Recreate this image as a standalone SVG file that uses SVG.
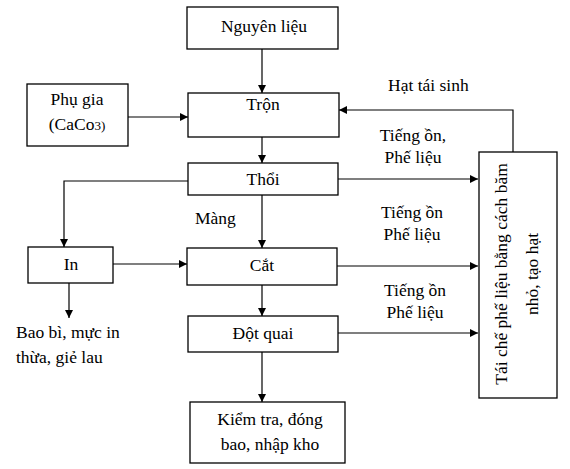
<svg xmlns="http://www.w3.org/2000/svg" width="570" height="469" viewBox="0 0 570 469">
<defs>
<marker id="ah" viewBox="0 0 10 10" refX="10" refY="5" markerWidth="8" markerHeight="8" markerUnits="userSpaceOnUse" orient="auto"><path d="M0,0 L10,5 L0,10 z" fill="#000"/></marker>
<style>
rect{fill:#fff;stroke:#000;stroke-width:1.3}
text{font-size:17.5px;fill:#000}
.c{text-anchor:middle}
.ln{fill:none;stroke:#000;stroke-width:1.2}
.a{marker-end:url(#ah)}
</style>
</defs>
<rect width="570" height="469" style="fill:#fff;stroke:none"/>
<g id="connectors">
<path class="ln a" d="M262,49 V93"/>
<path class="ln a" d="M128,117 H188"/>
<path class="ln a" d="M513,152 V110 H339"/>
<path class="ln a" d="M262,137 V163"/>
<path class="ln a" d="M188,181 H64 V247"/>
<path class="ln a" d="M338,179 H478"/>
<path class="ln a" d="M262,195 V248"/>
<path class="ln a" d="M113,264 H187"/>
<path class="ln a" d="M337,266 H478"/>
<path class="ln a" d="M262,285 V316"/>
<path class="ln a" d="M69,283 V318"/>
<path class="ln a" d="M338,333 H478"/>
<path class="ln a" d="M262,352 V402"/>
</g>
<g font-family="'Liberation Serif', 'Times New Roman', 'DejaVu Serif', serif">
<g id="nguyen-lieu"><rect x="187" y="7" width="151" height="42"/><text class="c" x="264" y="32">Nguyên liệu</text></g>
<g id="phu-gia"><rect x="27" y="84" width="101" height="62"/><text class="c" x="77" y="105">Phụ gia</text><text class="c" x="77" y="130">(CaCo<tspan font-size="13">3)</tspan></text></g>
<g id="tron"><rect x="188" y="93" width="151" height="44"/><text class="c" x="263" y="110">Trộn</text></g>
<g id="thoi"><rect x="188" y="163" width="150" height="32"/><text class="c" x="263" y="185">Thổi</text></g>
<g id="in"><rect x="28" y="247" width="85" height="36"/><text class="c" x="71" y="270">In</text></g>
<g id="cat"><rect x="187" y="248" width="150" height="37"/><text class="c" x="262" y="271">Cắt</text></g>
<g id="dot-quai"><rect x="188" y="316" width="150" height="36"/><text class="c" x="263" y="339">Đột quai</text></g>
<g id="kiem-tra"><rect x="190" y="402" width="155" height="61"/><text class="c" x="270" y="425">Kiểm tra, đóng</text><text class="c" x="270" y="450">bao, nhập kho</text></g>
<g id="tai-che"><rect x="479" y="152" width="78" height="246"/>
<text class="c" transform="translate(507,274) rotate(-90)">Tái chế phế liệu bằng cách băm</text>
<text class="c" transform="translate(538,274) rotate(-90)">nhỏ, tạo hạt</text></g>
<g id="labels">
<text x="388" y="91">Hạt tái sinh</text>
<text class="c" x="413" y="141">Tiếng ồn,</text>
<text class="c" x="413" y="163">Phế liệu</text>
<text x="195" y="224">Màng</text>
<text class="c" x="412" y="218">Tiếng ồn</text>
<text class="c" x="412" y="240">Phế liệu</text>
<text class="c" x="415" y="296">Tiếng ồn</text>
<text class="c" x="415" y="318">Phế liệu</text>
<text x="16" y="338">Bao bì, mực in</text>
<text x="16" y="363">thừa, giẻ lau</text>
</g>
</g>
</svg>
